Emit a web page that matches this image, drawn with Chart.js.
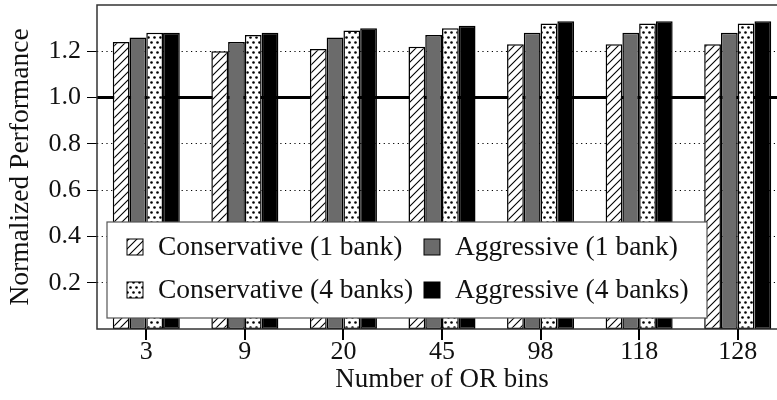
<!DOCTYPE html>
<html>
<head>
<meta charset="utf-8">
<script src="https://cdn.jsdelivr.net/npm/chart.js@4"></script>
<style>
  html, body { margin: 0; padding: 0; background: #fff; overflow: hidden; }
  #wrap { width: 790px; height: 400px; }
</style>
</head>
<body>
<div id="wrap"><canvas id="chart" width="790" height="400"></canvas></div>
<script>
// bins on the x axis
const bins = ["3", "9", "20", "45", "98", "118", "128"];

// normalized performance per configuration
const conservative1 = [1.24, 1.20, 1.21, 1.22, 1.23, 1.23, 1.23];
const aggressive1   = [1.26, 1.24, 1.26, 1.27, 1.28, 1.28, 1.28];
const conservative4 = [1.28, 1.27, 1.29, 1.30, 1.32, 1.32, 1.32];
const aggressive4   = [1.28, 1.28, 1.30, 1.31, 1.33, 1.33, 1.33];

const yTicks = [0.2, 0.4, 0.6, 0.8, 1.0, 1.2];
const baseline = 1.0;

const FONT = "'Liberation Serif', 'DejaVu Serif', serif";

// fill patterns
function hatchPattern() {
  const c = document.createElement("canvas");
  c.width = 8; c.height = 8;
  const g = c.getContext("2d");
  g.fillStyle = "#fff";
  g.fillRect(0, 0, 8, 8);
  g.strokeStyle = "#000";
  g.lineWidth = 1.1;
  g.beginPath();
  g.moveTo(-2, 10); g.lineTo(10, -2);
  g.moveTo(-2, 2); g.lineTo(2, -2);
  g.moveTo(6, 10); g.lineTo(10, 6);
  g.stroke();
  return g.createPattern(c, "repeat");
}

function dotPattern() {
  const c = document.createElement("canvas");
  c.width = 6; c.height = 10;
  const g = c.getContext("2d");
  g.fillStyle = "#fff";
  g.fillRect(0, 0, 6, 10);
  g.fillStyle = "#000";
  [[1.5, 2.5], [4.5, 7.5]].forEach(([x, y]) => {
    g.beginPath();
    g.arc(x, y, 1.3, 0, Math.PI * 2);
    g.fill();
  });
  return g.createPattern(c, "repeat");
}

const hatch = hatchPattern();
const dots = dotPattern();

// thick reference line at 1.0, frame and x tick marks
const refLine = {
  id: "refLine",
  beforeDatasetsDraw(chart) {
    const { ctx, chartArea, scales } = chart;
    const y = scales.y.getPixelForValue(baseline);
    ctx.save();
    ctx.strokeStyle = "#000";
    ctx.lineWidth = 3;
    ctx.beginPath();
    ctx.moveTo(chartArea.left, y);
    ctx.lineTo(chartArea.right, y);
    ctx.stroke();
    ctx.restore();
  },
  afterDraw(chart) {
    const { ctx, chartArea, scales } = chart;
    ctx.save();
    ctx.strokeStyle = "#333";
    ctx.lineWidth = 1.5;
    ctx.strokeRect(chartArea.left, chartArea.top, chartArea.right - chartArea.left, chartArea.bottom - chartArea.top);
    ctx.fillStyle = "#000";
    bins.forEach((b, i) => {
      const x = Math.round(scales.x.getPixelForValue(i));
      ctx.fillRect(x - 1, chartArea.bottom, 2, 11);
    });
    ctx.restore();
  }
};

// legend box drawn inside the plot
const boxLegend = {
  id: "boxLegend",
  afterDatasetsDraw(chart) {
    const { ctx, chartArea } = chart;
    const ds = chart.data.datasets;
    const x0 = chartArea.left + 10, y0 = 222, w = 600, h = 96;
    ctx.save();
    ctx.fillStyle = "#fff";
    ctx.fillRect(x0, y0, w, h);
    ctx.strokeStyle = "#555";
    ctx.lineWidth = 1.2;
    ctx.strokeRect(x0, y0, w, h);
    ctx.font = "27.5px " + FONT;
    ctx.textBaseline = "middle";
    const cols = [x0 + 20, x0 + 317];
    const rows = [y0 + 25, y0 + 68];
    [0, 1, 2, 3].forEach((i, k) => {
      const cx = cols[k % 2], cy = rows[Math.floor(k / 2)];
      ctx.fillStyle = ds[i].backgroundColor;
      ctx.fillRect(cx, cy - 8, 16, 16);
      ctx.strokeStyle = "#000";
      ctx.lineWidth = 1;
      ctx.strokeRect(cx, cy - 8, 16, 16);
      ctx.fillStyle = "#111";
      ctx.fillText(ds[i].label, cx + 31, cy + 1);
    });
    ctx.restore();
  }
};

const barStyle = { borderColor: "#000", borderWidth: 1.5, borderSkipped: false };

new Chart(document.getElementById("chart"), {
  type: "bar",
  data: {
    labels: bins,
    datasets: [
      { label: "Conservative (1 bank)", data: conservative1, backgroundColor: hatch, ...barStyle },
      { label: "Aggressive (1 bank)", data: aggressive1, backgroundColor: "#6b6b6b", ...barStyle },
      { label: "Conservative (4 banks)", data: conservative4, backgroundColor: dots, ...barStyle },
      { label: "Aggressive (4 banks)", data: aggressive4, backgroundColor: "#000", ...barStyle }
    ]
  },
  options: {
    responsive: false,
    animation: false,
    layout: { padding: { top: 5, right: 3, left: 0, bottom: 0 } },
    datasets: { bar: { categoryPercentage: 0.68, barPercentage: 1 } },
    plugins: { legend: { display: false }, tooltip: { enabled: false } },
    scales: {
      x: {
        grid: { drawOnChartArea: false, drawTicks: true, tickLength: 10, tickColor: "rgba(0,0,0,0)" },
        border: { display: false },
        ticks: { color: "#111", font: { family: FONT, size: 26 }, padding: -2 },
        title: { display: true, text: "Number of OR bins", color: "#111", font: { family: FONT, size: 27 }, padding: { top: 4 } },
        afterFit(s) { s.height = 71; s.paddingLeft = 0; s.paddingRight = 0; }
      },
      y: {
        min: 0,
        max: 1.4,
        afterBuildTicks(s) { s.ticks = yTicks.map(v => ({ value: v })); },
        grid: { color: "#000", lineWidth: 1, tickLength: 10, tickColor: "#000", tickBorderDash: [], drawTicks: true },
        border: { display: false, dash: [1.2, 3.5] },
        ticks: { color: "#111", font: { family: FONT, size: 26 }, padding: 6, callback: v => v.toFixed(1) },
        title: { display: true, text: "Normalized Performance", color: "#111", font: { family: FONT, size: 27.5 }, padding: { top: 4, bottom: 0 } },
        afterFit(s) { s.width = 97; s.paddingTop = 0; s.paddingBottom = 0; }
      }
    }
  },
  plugins: [refLine, boxLegend]
});
</script>
</body>
</html>
